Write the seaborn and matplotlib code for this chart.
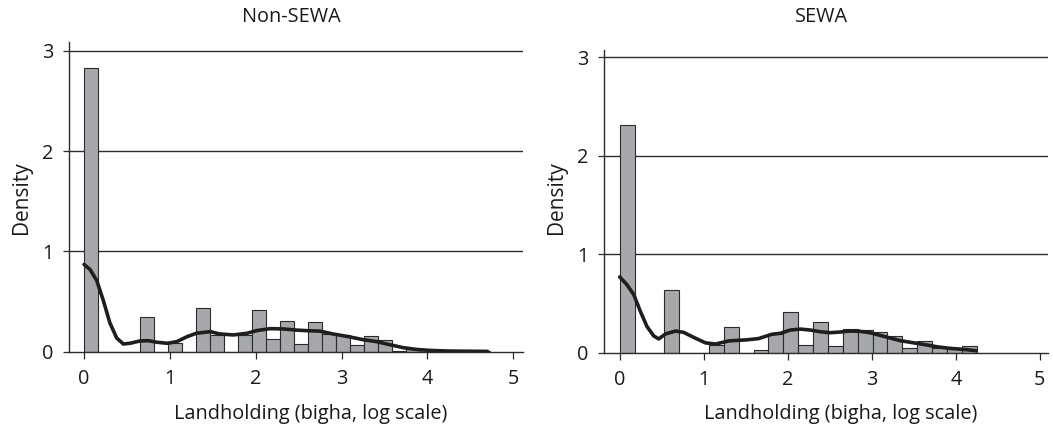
import numpy as np
import pandas as pd
import matplotlib
matplotlib.use("Agg")
import matplotlib.pyplot as plt
import seaborn as sns

# ---------------- data ----------------
panel_titles = ["Non-SEWA", "SEWA"]
x_label = "Landholding (bigha, log scale)"
y_label = "Density"
x_ticks = [0, 1, 2, 3, 4, 5]
y_ticks = [0, 1, 2, 3]

# histogram bin widths (log bigha) and bar densities, starting at 0
nonsewa_bin_width = 0.163
nonsewa_density = [2.83, 0, 0, 0, 0.35, 0, 0.087, 0, 0.44, 0.167, 0, 0.167,
                   0.42, 0.127, 0.305, 0.076, 0.30, 0.18, 0.17, 0.067, 0.154,
                   0.12, 0.01, 0.03, 0.013, 0.007, 0.005, 0.005, 0.005]
sewa_bin_width = 0.177
sewa_density = [2.316, 0, 0, 0.636, 0, 0, 0.083, 0.26, 0, 0.032, 0.19, 0.414,
                0.083, 0.316, 0.071, 0.242, 0.228, 0.21, 0.173, 0.046, 0.116,
                0.046, 0.04, 0.065]

# kernel density curves
nonsewa_kde_x = [0, 0.07, 0.148, 0.225, 0.30, 0.38, 0.458, 0.536, 0.65, 0.75,
                 0.85, 0.97, 1.08, 1.2, 1.31, 1.47, 1.58, 1.74, 1.9, 2.01,
                 2.17, 2.32, 2.48, 2.59, 2.75, 2.9, 3.08, 3.25, 3.41, 3.56,
                 3.72, 3.87, 4.03, 4.22, 4.41, 4.57, 4.7]
nonsewa_kde_y = [0.87, 0.82, 0.71, 0.51, 0.29, 0.137, 0.077, 0.084, 0.107, 0.11,
                 0.094, 0.084, 0.10, 0.15, 0.184, 0.20, 0.177, 0.167, 0.184, 0.21,
                 0.23, 0.227, 0.215, 0.21, 0.205, 0.177, 0.15, 0.12, 0.10, 0.07,
                 0.04, 0.023, 0.013, 0.007, 0.005, 0.004, 0.003]
sewa_kde_x = [0, 0.087, 0.167, 0.246, 0.325, 0.405, 0.464, 0.544, 0.663, 0.76,
              0.88, 1.02, 1.14, 1.30, 1.50, 1.65, 1.81, 1.91, 2.03, 2.15, 2.27,
              2.38, 2.5, 2.62, 2.74, 2.86, 2.98, 3.1, 3.22, 3.34, 3.5, 3.61,
              3.77, 3.93, 4.09, 4.24]
sewa_kde_y = [0.77, 0.69, 0.59, 0.42, 0.265, 0.17, 0.14, 0.19, 0.22, 0.207,
              0.156, 0.10, 0.088, 0.12, 0.13, 0.143, 0.187, 0.197, 0.23, 0.24, 0.23,
              0.214, 0.203, 0.21, 0.22, 0.217, 0.203, 0.176, 0.149, 0.122, 0.10, 0.085,
              0.061, 0.044, 0.034, 0.02]

panels = [
    (nonsewa_bin_width, nonsewa_density, nonsewa_kde_x, nonsewa_kde_y),
    (sewa_bin_width, sewa_density, sewa_kde_x, sewa_kde_y),
]

# ---------------- style ----------------
sns.set_theme(style="white")
plt.rcParams["font.family"] = ["Open Sans", "DejaVu Sans"]
TEXT = "#1a1a1a"
BAR = "#a7a8ab"
EDGE = "#2a2a2a"
GRID = "#2b2b2b"

fig = plt.figure(figsize=(10.53, 4.29), dpi=100)
W, H = 1053, 429
boxes = [  # left, top, right, bottom in pixels
    (69, 42.3, 522.7, 351.7),
    (604, 50, 1048.3, 352.7),
]
xlims = [(-0.175, 5.11), (-0.187, 5.10)]
ylims = [(0, 3.085), (0, 3.076)]
title_x = [291.7, 822]
xlabel_x = [310.5, 841]
ylabel_x = [21.5, 556.5]
FS = 14.3

for i, (bw, dens, kx, ky) in enumerate(panels):
    l, t, r, b = boxes[i]
    ax = fig.add_axes([l / W, 1 - b / H, (r - l) / W, (b - t) / H])
    n = len(dens)
    centers = (np.arange(n) + 0.5) * bw
    df = pd.DataFrame({"x": centers, "w": dens})
    for yv in y_ticks[1:]:
        ax.axhline(yv, color=GRID, lw=1.0, zorder=0)
    sns.histplot(data=df, x="x", weights="w", binwidth=bw,
                 binrange=(0, n * bw), stat="count",
                 color=BAR, edgecolor=EDGE, linewidth=0.8, alpha=1.0, ax=ax)
    kdf = pd.DataFrame({"x": kx, "y": ky})
    sns.lineplot(data=kdf, x="x", y="y", color="#1e1e1e", lw=2.6, ax=ax)
    ax.set_xlim(*xlims[i])
    ax.set_ylim(*ylims[i])
    ax.set_xticks(x_ticks)
    ax.set_yticks(y_ticks)
    ax.set_xticklabels([str(v) for v in x_ticks])
    ax.set_yticklabels([str(v) for v in y_ticks])
    ax.set_xlabel("")
    ax.set_ylabel("")
    for s in ["top", "right"]:
        ax.spines[s].set_visible(False)
    for s in ["left", "bottom"]:
        ax.spines[s].set_visible(True)
        ax.spines[s].set_color(GRID)
        ax.spines[s].set_linewidth(1.0)
    ax.tick_params(axis="x", direction="out", length=4.8, width=0.9, color=GRID,
                   labelsize=FS, labelcolor=TEXT, pad=7.5, bottom=True)
    ax.tick_params(axis="y", direction="out", length=4.1, width=0.9, color=GRID,
                   labelsize=FS, labelcolor=TEXT, pad=7, left=True)
    ax.set_facecolor("white")
    fig.text(title_x[i] / W, 1 - 16.5 / H, panel_titles[i], ha="center",
             va="center", fontsize=FS, color=TEXT)
    fig.text(xlabel_x[i] / W, 1 - 414 / H, x_label, ha="center", va="center",
             fontsize=FS, color=TEXT)
    fig.text(ylabel_x[i] / W, 1 - 197.5 / H, y_label, ha="center", va="center",
             rotation=90, fontsize=15, color=TEXT)

fig.savefig("out.png", dpi=100, facecolor="white")
